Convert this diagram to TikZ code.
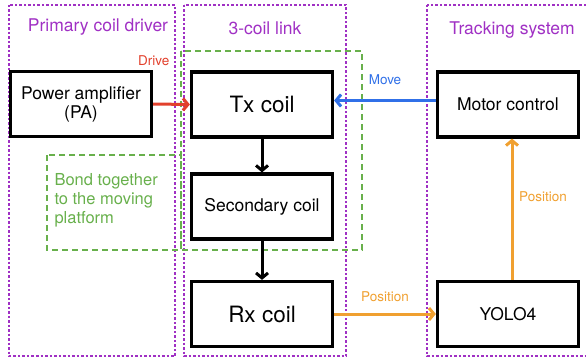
\documentclass[tikz,border=0pt]{standalone}
\usepackage{fontspec}
\setmainfont{TeX Gyre Heros}
\usetikzlibrary{arrows.meta}
\definecolor{grouppurple}{RGB}{160,48,196}
\definecolor{bondgreen}{RGB}{104,176,76}
\definecolor{drivered}{RGB}{226,64,44}
\definecolor{moveblue}{RGB}{48,112,232}
\definecolor{posorange}{RGB}{240,160,48}
\begin{document}
\begin{tikzpicture}[x=1pt,y=-1pt]
            \tikzset{
	block/.style={draw,line width=3.2pt,minimum width=141pt,minimum height=65pt,inner sep=0pt,align=center,font=\fontsize{17.5}{19}\selectfont},
	coilbig/.style={block,font=\fontsize{22.5}{26}\selectfont},
	group/.style={draw=grouppurple,line width=1.8pt,dash pattern=on 2.5pt off 2pt},
	bond/.style={draw=bondgreen,line width=2.8pt,dash pattern=on 6pt off 4pt},
	title/.style={text=grouppurple,font=\fontsize{17.5}{20}\selectfont},
	flowlabel/.style={font=\fontsize{13.5}{15}\selectfont},
	flow/.style={line width=3pt,-{Straight Barb[length=5pt,width=12pt]}}
}
\clip (0,0) rectangle (586,361);
\useasboundingbox (0,0) rectangle (586,361);

% groups
\draw[group] (9,5) rectangle (175,356);
\draw[group] (184,5) rectangle (346,356);
\draw[group] (427,5) rectangle (592,356);
\node[title] (driver) at (98,27) {Primary coil driver};
\node[title] (link) at (265,28) {3-coil link};
\node[title] (track) at (512,30) {Tracking system};

% moving platform
\draw[bond] (181,51) rectangle (362,250);
\draw[bond] (47,155) rectangle (181,250);
\node[text=bondgreen,align=left,anchor=west,font=\fontsize{16.5}{19}\selectfont] (plat) at (51,200)
	{Bond together\\to the moving\\platform};

% blocks
\node[block] (pa) at (81,104) {Power amplifier\\(PA)};
\node[coilbig] (tx) at (262,104.5) {Tx coil};
\node[block] (sec) at (262,206.5) {Secondary coil};
\node[coilbig] (rx) at (262,314) {Rx coil};
\node[block] (motor) at (508,104.5) {Motor control};
\node[block] (yolo) at (508,314) {YOLO4};

% connectors
\draw[flow,drivered] (pa.east) -- (tx.west);
\draw[flow] (tx) -- (sec);
\draw[flow] (sec) -- (rx);
\draw[flow,moveblue] ([yshift=4pt]motor.west) -- ([yshift=4pt]tx.east);
\draw[flow,posorange] (rx) -- (yolo);
\draw[flow,posorange] ([xshift=4pt]yolo.north) -- ([xshift=4pt]motor.south);

\node[flowlabel,text=drivered,anchor=east] (drive) at (173,61) {Drive};
\node[flowlabel,text=moveblue] (move) at (385,80) {Move};
\node[flowlabel,text=posorange] (pos1) at (385,297) {Position};
\node[flowlabel,text=posorange] (pos2) at (543,197) {Position};
        \end{tikzpicture}
\end{document}
